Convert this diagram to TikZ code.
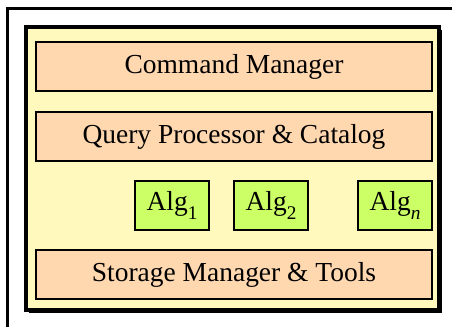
\documentclass[tikz,border=0pt]{standalone}
\usepackage{fontspec}
\setmainfont{Liberation Serif}
\usepackage{tikz}
\usetikzlibrary{positioning,shapes,fit,calc,shadows}

\definecolor{layerfill}{RGB}{255,216,176}
\definecolor{modulefill}{RGB}{255,249,190}
\definecolor{algfill}{RGB}{204,255,102}

\newcommand{\algsub}[1]{\raisebox{-0.3em}{\fontsize{14.5}{14.5}\selectfont #1}}

\begin{document}
\begin{tikzpicture}[
        x=0.75pt, y=-0.75pt,
        font=\fontsize{20.6}{24}\selectfont,
        layer/.style={rectangle, draw=black, fill=layerfill, line width=1.5pt, minimum width=297pt, minimum height=36.75pt, inner sep=0pt},
        algbox/.style={rectangle, draw=black, fill=algfill, line width=1.5pt, minimum width=55.5pt, minimum height=36.75pt, inner sep=0pt,
            drop shadow={shadow xshift=1pt, shadow yshift=-1pt, fill=black, opacity=1}},
        modulebox/.style={rectangle, draw=black, fill=modulefill, line width=3pt, inner sep=0pt,
            drop shadow={shadow xshift=2.5pt, shadow yshift=-2.5pt, fill=black, opacity=1}}
    ]
        \useasboundingbox (0,0) rectangle (452,327);
        \clip (0,0) rectangle (452,327);

        % Frame
        \draw[line width=2.25pt] (7,9) rectangle (480,350);

        % Module
        \node (module) [modulebox, fit={(26,27) (439,310)}] {};

        % Layers
        \node (command) at (234,66.5) [layer] {Command Manager};
        \node (query) at (234,136.5) [layer] {Query Processor \& Catalog};
        \node (storage) at (234,274.5) [layer] {Storage Manager \& Tools};

        % Algorithms
        \node (alg1) at (172,205.5) [algbox] {Alg\algsub{1}};
        \node (alg2) at (271,205.5) [algbox] {Alg\algsub{2}};
        \node (algn) at (395,205.5) [algbox] {Alg\algsub{\textit{n}}};
    \end{tikzpicture}
\end{document}
